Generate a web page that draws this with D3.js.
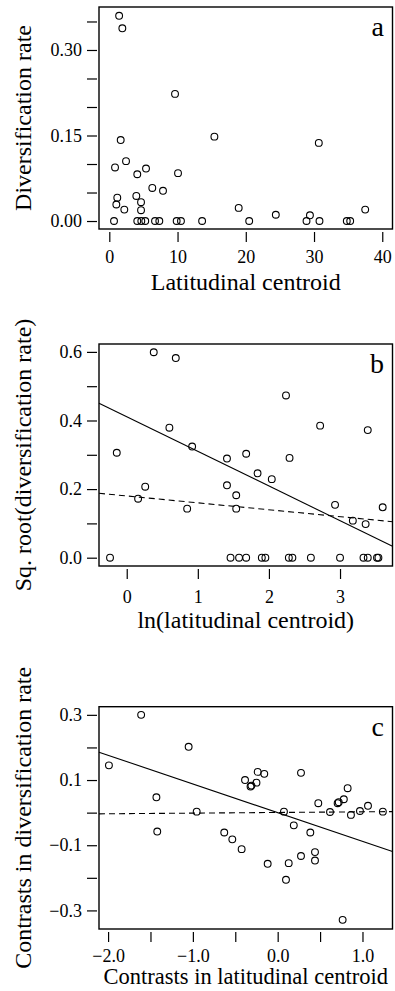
<!DOCTYPE html>
<html>
<head>
<meta charset="utf-8">
<script src="https://cdn.jsdelivr.net/npm/d3@7"></script>
<style>
  body { margin: 0; background: #fff; }
  svg text { font-family: "Liberation Serif", "Times New Roman", serif; fill: #000; }
</style>
</head>
<body>
<div id="chart-area"></div>
<script>
// panel a: raw values
var aLat = [1.44, 1.91, 9.63, 1.67, 15.4, 30.7, 0.84, 2.45, 4.1, 5.38, 10.07, 6.3, 7.87,
  1.17, 3.96, 1.03, 4.65, 2.2, 4.65, 18.96, 24.4, 29.4, 37.5,
  0.69, 4.1, 4.69, 5.27, 6.7, 7.33, 9.87, 10.5, 13.6, 20.5, 28.9, 30.8, 34.8, 35.3];
var aRate = [0.360, 0.338, 0.223, 0.142, 0.148, 0.137, 0.094, 0.105, 0.082, 0.092, 0.084, 0.058, 0.053,
  0.041, 0.044, 0.029, 0.033, 0.020, 0.019, 0.023, 0.011, 0.010, 0.020,
  0, 0, 0, 0, 0, 0, 0, 0, 0, 0, 0, 0, 0, 0];

// panel b: transformed values
var bLnLat = [0.38, 0.69, 2.24, 2.72, 3.39, 0.60, -0.14, 0.92, 1.41, 1.68, 2.29, 1.84, 2.04,
  1.41, 1.54, 1.54, 0.26, 0.16, 0.85, 2.93, 3.18, 3.36, 3.6,
  -0.235, 1.46, 1.58, 1.68, 1.9, 1.95, 2.28, 2.33, 2.59, 3.0, 3.33, 3.39, 3.52, 3.54];
var bSqrtRate = [0.599, 0.582, 0.473, 0.385, 0.372, 0.379, 0.306, 0.324, 0.289, 0.303, 0.291, 0.246, 0.229,
  0.211, 0.182, 0.143, 0.207, 0.172, 0.143, 0.154, 0.108, 0.098, 0.147,
  0, 0, 0, 0, 0, 0, 0, 0, 0, 0, 0, 0, 0, 0];
var bFitSolid = [0.411, -0.101];   // intercept, slope
var bFitDashed = [0.180, -0.0201];

// panel c: independent contrasts
var cLatContrast = [-1.61, -1.99, -1.05, -1.43, -0.955, -0.385, -0.32, -0.31, -0.25, -0.236, -0.158, 0.275,
  0.074, 0.479, 0.617, 0.707, 0.72, 0.78, 0.825, 0.864, 0.97, 1.065, 1.24,
  -1.42, -0.63, -0.535, -0.425, -0.118, 0.13, 0.098, 0.19, 0.275, 0.385, 0.44, 0.44, 0.766];
var cRateContrast = [0.300, 0.145, 0.202, 0.047, 0.003, 0.100, 0.080, 0.083, 0.092, 0.125, 0.119, 0.122,
  0.003, 0.029, 0.002, 0.029, 0.032, 0.041, 0.075, -0.007, 0.005, 0.021, 0.003,
  -0.058, -0.061, -0.082, -0.112, -0.157, -0.155, -0.206, -0.039, -0.133, -0.061, -0.121, -0.147, -0.329];
var cFitSolid = [0.0, -0.088];
var cFitDashed = [0.0005, 0.002];

// ticks
var aXTicks = [0, 10, 20, 30, 40];
var aYTicks = [0, 0.05, 0.10, 0.15, 0.20, 0.25, 0.30, 0.35];
var aYLabels = [0, 0.15, 0.30];
var bXTicks = [0, 1, 2, 3];
var bYTicks = [0, 0.1, 0.2, 0.3, 0.4, 0.5, 0.6];
var bYLabels = [0, 0.2, 0.4, 0.6];
var cXTicks = [-2.0, -1.5, -1.0, -0.5, 0.0, 0.5, 1.0];
var cXLabels = [-2.0, -1.0, 0.0, 1.0];
var cYTicks = [-0.3, -0.2, -0.1, 0.0, 0.1, 0.2, 0.3];
var cYLabels = [-0.3, -0.1, 0.1, 0.3];

var svg = d3.select("#chart-area")
  .append("svg")
  .attr("width", 395)
  .attr("height", 991);

var left = 99, right = 392.5;

function inList(list, v) {
  return list.some(function(d) { return Math.abs(d - v) < 1e-9; });
}

function panel(cfg) {
  var x = d3.scaleLinear().domain(cfg.xDomain).range([left, right]);
  var y = d3.scaleLinear().domain(cfg.yDomain).range([cfg.bottom, cfg.top]);
  var g = svg.append("g");

  var yAxis = g.append("g")
    .attr("transform", "translate(" + (left - 2) + ",0)")
    .call(d3.axisLeft(y)
      .tickValues(cfg.yTicks)
      .tickSize(10)
      .tickPadding(5)
      .tickFormat(function(d) { return inList(cfg.yLabels, d) ? cfg.yFormat(d) : ""; }));

  var xAxis = g.append("g")
    .attr("transform", "translate(0," + (cfg.bottom + 3) + ")")
    .call(d3.axisBottom(x)
      .tickValues(cfg.xTicks)
      .tickSize(10)
      .tickPadding(cfg.xPad)
      .tickFormat(function(d) { return inList(cfg.xLabels, d) ? cfg.xFormat(d) : ""; }));

  [yAxis, xAxis].forEach(function(ax) {
    ax.select(".domain").remove();
    ax.attr("font-size", null).attr("font-family", null);
    ax.selectAll("line").attr("stroke", "#000").attr("stroke-width", 1.2);
    ax.selectAll("text").style("font-size", "18px");
  });

  // fitted lines, clipped to the x domain
  function fitLine(fit, dash) {
    var xs = cfg.xDomain;
    g.append("line")
      .attr("x1", x(xs[0])).attr("y1", y(fit[0] + fit[1] * xs[0]))
      .attr("x2", x(xs[1])).attr("y2", y(fit[0] + fit[1] * xs[1]))
      .attr("stroke", "#000")
      .attr("stroke-width", 1.1)
      .attr("stroke-dasharray", dash);
  }
  if (cfg.fitSolid) fitLine(cfg.fitSolid, null);
  if (cfg.fitDashed) fitLine(cfg.fitDashed, "6,4");

  g.selectAll("circle")
    .data(cfg.xs)
    .enter()
    .append("circle")
    .attr("cx", function(d) { return x(d); })
    .attr("cy", function(d, i) { return y(cfg.ys[i]); })
    .attr("r", 3.4)
    .attr("fill", "none")
    .attr("stroke", "#000")
    .attr("stroke-width", 1.1);

  g.append("rect")
    .attr("x", left)
    .attr("y", cfg.top)
    .attr("width", right - left)
    .attr("height", cfg.bottom - cfg.top)
    .attr("fill", "none")
    .attr("stroke", "#000")
    .attr("stroke-width", 1.4);

  g.append("text")
    .attr("x", 384)
    .attr("y", cfg.top + 29)
    .attr("text-anchor", "end")
    .style("font-size", "28px")
    .text(cfg.letter);

  g.append("text")
    .attr("transform", "translate(31," + ((cfg.top + cfg.bottom) / 2) + ") rotate(-90)")
    .attr("text-anchor", "middle")
    .style("font-size", "24px")
    .text(cfg.yTitle);

  g.append("text")
    .attr("x", (left + right) / 2)
    .attr("y", cfg.xTitleY)
    .attr("text-anchor", "middle")
    .style("font-size", cfg.xTitleSize || "24px")
    .text(cfg.xTitle);
}

panel({
  xs: aLat, ys: aRate,
  xDomain: [-1.51, 41.5], yDomain: [-0.014, 0.3754],
  top: 7, bottom: 229,
  xTicks: aXTicks, xLabels: aXTicks, xFormat: d3.format("d"), xPad: 8,
  yTicks: aYTicks, yLabels: aYLabels, yFormat: d3.format(".2f"),
  letter: "a",
  yTitle: "Diversification rate",
  xTitle: "Latitudinal centroid", xTitleY: 290
});

panel({
  xs: bLnLat, ys: bSqrtRate,
  xDomain: [-0.39, 3.738], yDomain: [-0.0242, 0.623],
  top: 344, bottom: 566,
  xTicks: bXTicks, xLabels: bXTicks, xFormat: d3.format("d"), xPad: 11,
  yTicks: bYTicks, yLabels: bYLabels, yFormat: d3.format(".1f"),
  fitSolid: bFitSolid, fitDashed: bFitDashed,
  letter: "b",
  yTitle: "Sq. root(diversification rate)",
  xTitle: "ln(latitudinal centroid)", xTitleY: 628
});

panel({
  xs: cLatContrast, ys: cRateContrast,
  xDomain: [-2.107, 1.354], yDomain: [-0.357, 0.325],
  top: 706.7, bottom: 929,
  xTicks: cXTicks, xLabels: cXLabels, xFormat: d3.format(".1f"), xPad: 7,
  yTicks: cYTicks, yLabels: cYLabels, yFormat: d3.format(".1f"),
  fitSolid: cFitSolid, fitDashed: cFitDashed,
  letter: "c",
  yTitle: "Contrasts in diversification rate",
  xTitle: "Contrasts in latitudinal centroid", xTitleY: 984, xTitleSize: "22.5px"
});
</script>
</body>
</html>
